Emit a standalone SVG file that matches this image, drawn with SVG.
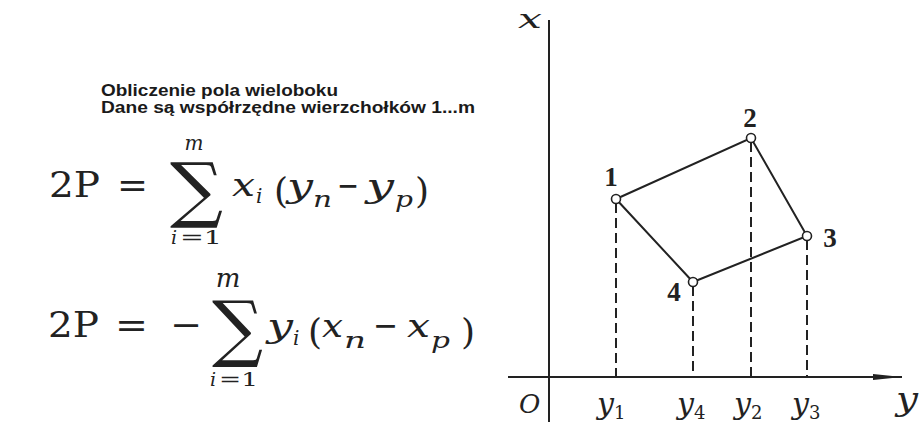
<svg xmlns="http://www.w3.org/2000/svg" width="919" height="441" viewBox="0 0 919 441">
<defs>
<style>
.t{font-family:"Liberation Sans",Arial,sans-serif;font-weight:bold;font-size:16.5px;fill:#1a1a1a}
.r{font-family:"DejaVu Serif","Liberation Serif",serif;fill:#222}
.i{font-family:"DejaVu Serif","Liberation Serif",serif;font-style:italic;fill:#222}
.s{font-family:"DejaVu Serif","Liberation Serif",serif;fill:#222}
.ax{stroke:#222;stroke-width:2;fill:none}
.edge{stroke:#222;stroke-width:2;fill:none}
.dash{stroke:#222;stroke-width:2;stroke-dasharray:10 5;fill:none}
.pt{fill:#fff;stroke:#222;stroke-width:1.6}
.lbl{font-family:"Liberation Serif","Times New Roman",serif;font-weight:bold;font-size:27px;fill:#222;text-anchor:middle}
</style>
<marker id="arr" markerWidth="30" markerHeight="8" refX="29" refY="4" orient="auto" markerUnits="userSpaceOnUse">
<path d="M0,1 L29,4 L0,7 Z" fill="#222"/>
</marker>
</defs>
<rect width="919" height="441" fill="#fff"/>

<g id="title">
<text class="t" x="101" y="96" textLength="237" lengthAdjust="spacingAndGlyphs">Obliczenie pola wieloboku</text>
<text class="t" x="101" y="113" textLength="374" lengthAdjust="spacingAndGlyphs">Dane są współrzędne wierzchołków 1...m</text>
</g>

<g id="formula1">
<text class="r" x="49" y="197" font-size="36" textLength="51" lengthAdjust="spacingAndGlyphs">2P</text>
<text class="r" x="117" y="197" font-size="36" textLength="31" lengthAdjust="spacingAndGlyphs">=</text>
<text class="s" x="170" y="214" font-size="72" textLength="53" lengthAdjust="spacingAndGlyphs">∑</text>
<text class="i" x="194" y="150" font-size="20" text-anchor="middle">m</text>
<text class="i" x="171" y="244" font-size="19">i</text>
<text class="r" x="180" y="244" font-size="19" textLength="42" lengthAdjust="spacingAndGlyphs">=1</text>
<text class="i" x="232" y="196" font-size="32" textLength="23" lengthAdjust="spacingAndGlyphs">x</text>
<text class="i" x="256" y="203" font-size="20">i</text>
<text class="r" x="274" y="203" font-size="36">(</text>
<text class="i" x="287" y="197" font-size="32" textLength="26" lengthAdjust="spacingAndGlyphs">y</text>
<text class="i" x="313" y="207" font-size="22" textLength="19" lengthAdjust="spacingAndGlyphs">n</text>
<text class="r" x="337" y="197" font-size="34" textLength="22" lengthAdjust="spacingAndGlyphs">−</text>
<text class="i" x="366" y="197" font-size="32" textLength="28" lengthAdjust="spacingAndGlyphs">y</text>
<text class="i" x="395" y="207" font-size="22" textLength="18" lengthAdjust="spacingAndGlyphs">p</text>
<text class="r" x="415" y="203" font-size="36">)</text>
</g>

<g id="formula2">
<text class="r" x="48" y="337" font-size="36" textLength="51" lengthAdjust="spacingAndGlyphs">2P</text>
<text class="r" x="115" y="337" font-size="36" textLength="33" lengthAdjust="spacingAndGlyphs">=</text>
<text class="r" x="170" y="337" font-size="36" textLength="32" lengthAdjust="spacingAndGlyphs">−</text>
<text class="s" x="212" y="353" font-size="73" textLength="51" lengthAdjust="spacingAndGlyphs">∑</text>
<text class="i" x="228" y="287" font-size="26" text-anchor="middle">m</text>
<text class="i" x="210" y="386" font-size="19">i</text>
<text class="r" x="219" y="386" font-size="19" textLength="39" lengthAdjust="spacingAndGlyphs">=1</text>
<text class="i" x="267" y="337" font-size="32" textLength="26" lengthAdjust="spacingAndGlyphs">y</text>
<text class="i" x="293" y="345" font-size="20">i</text>
<text class="r" x="308" y="344" font-size="36">(</text>
<text class="i" x="322" y="337" font-size="32" textLength="21" lengthAdjust="spacingAndGlyphs">x</text>
<text class="i" x="344" y="348" font-size="22" textLength="22" lengthAdjust="spacingAndGlyphs">n</text>
<text class="r" x="373" y="337" font-size="34" textLength="25" lengthAdjust="spacingAndGlyphs">−</text>
<text class="i" x="407" y="337" font-size="32" textLength="23" lengthAdjust="spacingAndGlyphs">x</text>
<text class="i" x="431" y="348" font-size="22" textLength="19" lengthAdjust="spacingAndGlyphs">p</text>
<text class="r" x="461" y="344" font-size="36">)</text>
</g>

<g id="axes">
<line class="ax" x1="549" y1="20" x2="549" y2="422"/>
<line class="ax" x1="508" y1="377" x2="902" y2="377" marker-end="url(#arr)"/>
<text class="i" x="518" y="28" font-size="26" textLength="24" lengthAdjust="spacingAndGlyphs">x</text>
<text class="i" x="896" y="410" font-size="32" textLength="22" lengthAdjust="spacingAndGlyphs">y</text>
<text class="i" x="519" y="413" font-size="26">O</text>
</g>

<g id="connectors">
<polygon class="edge" points="616,199 751,138 807,236 693,282"/>
<line class="dash" x1="616" y1="203" x2="616" y2="377"/>
<line class="dash" x1="751" y1="142" x2="751" y2="377"/>
<line class="dash" x1="807" y1="240" x2="807" y2="377"/>
<line class="dash" x1="693" y1="286" x2="693" y2="377"/>
</g>

<g id="p1"><circle class="pt" cx="616" cy="199" r="4.5"/><text class="lbl" x="611" y="186">1</text></g>
<g id="p2"><circle class="pt" cx="751" cy="138" r="4.5"/><text class="lbl" x="750" y="127">2</text></g>
<g id="p3"><circle class="pt" cx="807" cy="236" r="4.5"/><text class="lbl" x="830" y="247">3</text></g>
<g id="p4"><circle class="pt" cx="693" cy="282" r="4.5"/><text class="lbl" x="674" y="301">4</text></g>

<g id="ticks">
<text class="i" x="597" y="414" font-size="30">y<tspan font-size="18" dy="5" font-style="normal">1</tspan></text>
<text class="i" x="677" y="414" font-size="30">y<tspan font-size="18" dy="5" font-style="normal">4</tspan></text>
<text class="i" x="734" y="414" font-size="30">y<tspan font-size="18" dy="5" font-style="normal">2</tspan></text>
<text class="i" x="792" y="414" font-size="30">y<tspan font-size="18" dy="5" font-style="normal">3</tspan></text>
</g>
</svg>
